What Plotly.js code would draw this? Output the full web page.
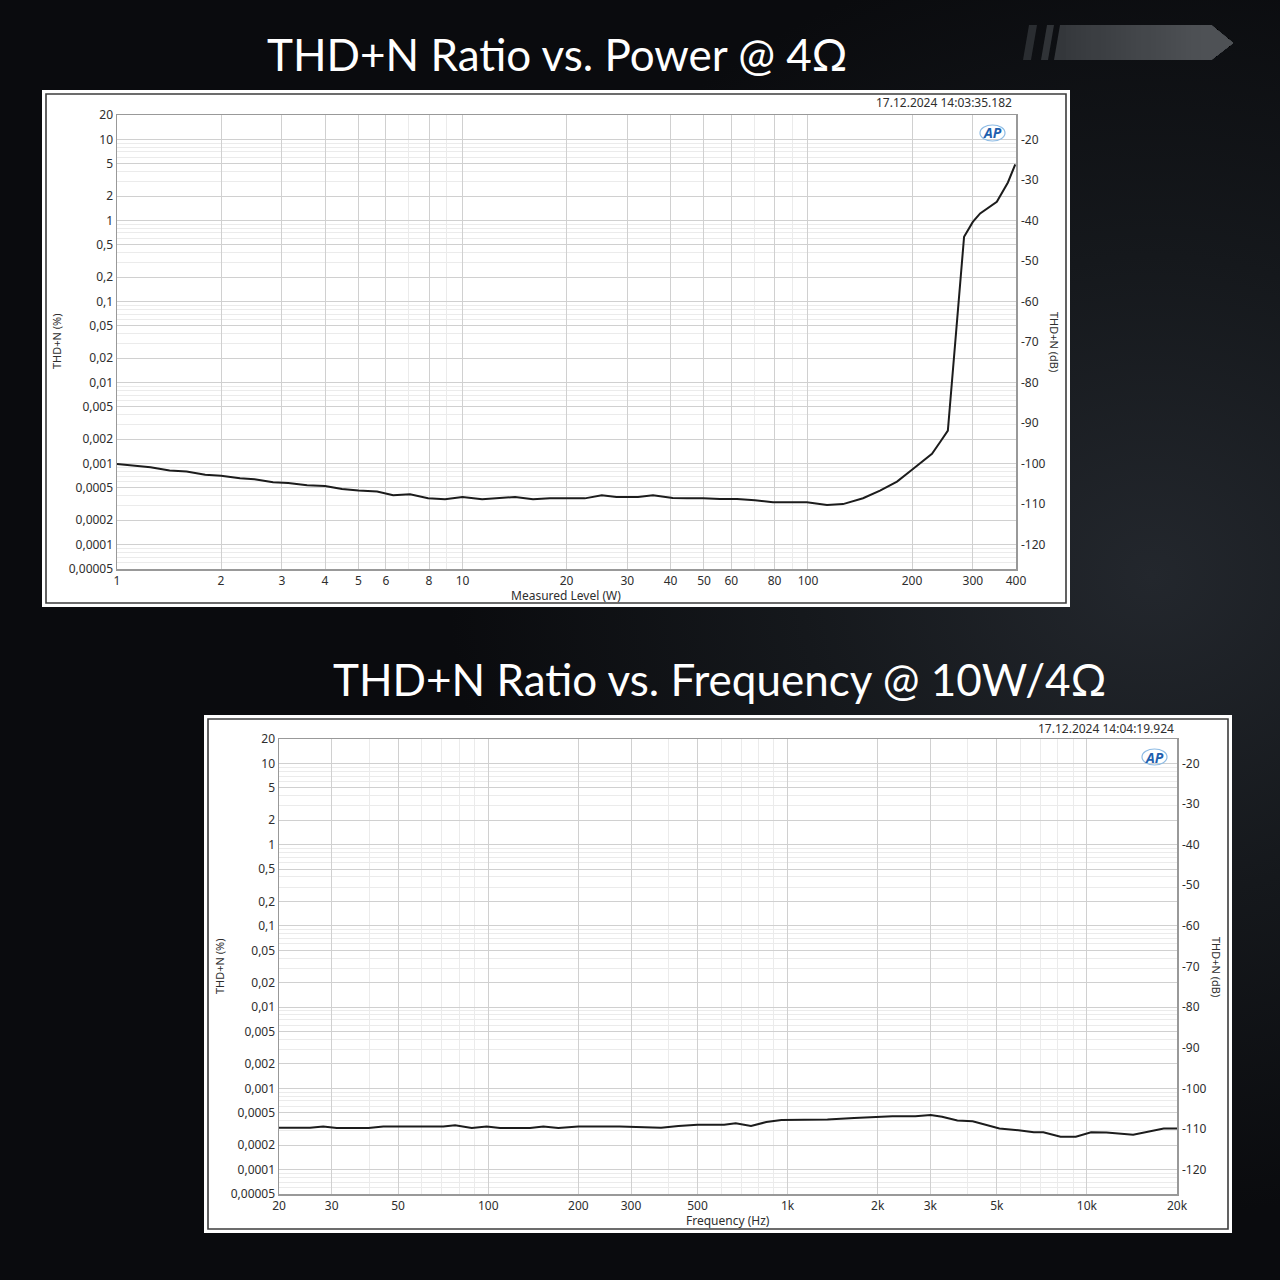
<!DOCTYPE html>
<html><head><meta charset="utf-8">
<script src="https://cdn.plot.ly/plotly-3.0.1.min.js"></script>
<style>
html,body{margin:0;padding:0;width:1280px;height:1280px;overflow:hidden;
background: radial-gradient(ellipse 55% 50% at 90% 45%, #23272d 0%, #15181c 50%, #0a0b0e 100%);}
#chart{width:1280px;height:1280px;}
</style></head><body><div id="chart"></div>
<script>
// ---- Data: THD+N vs Power @ 4 Ohm ----
const powerW = [1, 1.25, 1.42, 1.59, 1.8, 2.0, 2.27, 2.5, 2.83, 3.13, 3.55, 4.0, 4.48, 5.0, 5.66, 6.3, 7.05, 7.95, 8.9, 10, 11.4, 12.8, 14.2, 16, 17.9, 22.6, 25.3, 27.9, 32.2, 35.6, 40.6, 44.7, 49.7, 55.6, 62.3, 70.2, 79.2, 99.3, 113.5, 126.3, 144.3, 161.6, 181, 200, 213.8, 228.5, 241, 254, 283, 300, 315, 352, 379, 398];
const powerThdPct = [0.00099, 0.0009, 0.00082, 0.0008, 0.00073, 0.000705, 0.00066, 0.00064, 0.00059, 0.000576, 0.00054, 0.00053, 0.000486, 0.000464, 0.000452, 0.000406, 0.000417, 0.000373, 0.000362, 0.000387, 0.000362, 0.000372, 0.000387, 0.000362, 0.000372, 0.000372, 0.000406, 0.000387, 0.000387, 0.000406, 0.000377, 0.000373, 0.000373, 0.000365, 0.000365, 0.000352, 0.000333, 0.000333, 0.000309, 0.000316, 0.000373, 0.000464, 0.0006, 0.00084, 0.00104, 0.00132, 0.00183, 0.00255, 0.63, 0.96, 1.22, 1.70, 2.94, 4.91];

// ---- Data: THD+N vs Frequency @ 10W / 4 Ohm ----
const freqHz = [20, 25.4, 28.1, 31.2, 39.8, 44.6, 50.7, 70.8, 77.5, 88.1, 98.8, 109.5, 138, 152.8, 171.5, 200, 275, 322, 378, 432, 500, 614, 671, 755, 849, 954, 1106, 1244, 1359, 1669, 1991, 2240, 2672, 3006, 3283, 3692, 4153, 5102, 5908, 6647, 7152, 8166, 9183, 10330, 11620, 14275, 18060, 20000];
const freqThdPct = [0.000327, 0.000327, 0.000339, 0.000324, 0.000324, 0.000339, 0.000339, 0.000339, 0.000351, 0.000324, 0.000339, 0.000324, 0.000324, 0.000339, 0.000324, 0.000339, 0.000339, 0.000335, 0.000327, 0.000343, 0.000355, 0.000355, 0.000372, 0.000343, 0.000385, 0.000407, 0.000407, 0.000412, 0.000412, 0.000432, 0.000447, 0.000452, 0.000452, 0.000468, 0.000447, 0.000403, 0.000394, 0.00032, 0.000305, 0.000288, 0.000288, 0.000254, 0.000254, 0.000288, 0.000285, 0.000269, 0.00032, 0.00032];

// ---- Tick labels ----
const powerTickVals = [1, 2, 3, 4, 5, 6, 8, 10, 20, 30, 40, 50, 60, 80, 100, 200, 300, 400];
const powerTickText = ['1', '2', '3', '4', '5', '6', '8', '10', '20', '30', '40', '50', '60', '80', '100', '200', '300', '400'];
const powerMinorVals = [7, 9, 70, 90];
const freqTickVals = [20, 30, 50, 100, 200, 300, 500, 1000, 2000, 3000, 5000, 10000, 20000];
const freqTickText = ['20', '30', '50', '100', '200', '300', '500', '1k', '2k', '3k', '5k', '10k', '20k'];
const freqMinorVals = [40, 60, 70, 80, 90, 400, 600, 700, 800, 900, 4000, 6000, 7000, 8000, 9000];
const pctTickVals = [20, 10, 5, 2, 1, 0.5, 0.2, 0.1, 0.05, 0.02, 0.01, 0.005, 0.002, 0.001, 0.0005, 0.0002, 0.0001, 0.00005];
const pctTickText = ['20', '10', '5', '2', '1', '0,5', '0,2', '0,1', '0,05', '0,02', '0,01', '0,005', '0,002', '0,001', '0,0005', '0,0002', '0,0001', '0,00005'];
const dbTickVals = [-20, -30, -40, -50, -60, -70, -80, -90, -100, -110, -120];
const dbTickText = ['-20', '-30', '-40', '-50', '-60', '-70', '-80', '-90', '-100', '-110', '-120'];

const pctMinorVals = [];
for (let e = -5; e <= 0; e++) {
  [3, 4, 6, 7, 8, 9].forEach(m => {
    const v = Number((m * Math.pow(10, e)).toPrecision(3));
    if (v > 0.00005 && v < 20) pctMinorVals.push(v);
  });
}

const W = 1280, H = 1280;
const px = v => v / W;
const py = v => 1 - v / H;

const tickFont = {family: 'Noto Sans, Open Sans, sans-serif', size: 12, color: '#2e2e2e'};
const gridMajor = '#d0d0d0';
const gridMinor = '#ebebeb';
const frameColor = '#999999';

function xAxisCfg(domain, range, vals, text, minor, anchor) {
  return {domain, type: 'log', range, anchor, tickvals: vals, ticktext: text,
    showgrid: true, gridcolor: gridMajor, gridwidth: 1,
    minor: {tickvals: minor, showgrid: true, gridcolor: gridMinor, gridwidth: 1, ticks: ''},
    ticks: '', showline: true, linecolor: frameColor, linewidth: 1.5, mirror: true,
    zeroline: false, tickfont: tickFont, tickangle: 0, fixedrange: true};
}
function yAxisCfg(domain, anchor) {
  return {domain, type: 'log', range: [Math.log10(0.00005), Math.log10(20)], anchor,
    tickvals: pctTickVals, ticktext: pctTickText,
    showgrid: true, gridcolor: gridMajor, gridwidth: 1,
    minor: {tickvals: pctMinorVals, showgrid: true, gridcolor: gridMinor, gridwidth: 1, ticks: ''},
    ticks: '', showline: true, linecolor: frameColor, linewidth: 1.5, mirror: true,
    zeroline: false, tickfont: tickFont, fixedrange: true};
}
function dbAxisCfg(overlay, anchor) {
  return {overlaying: overlay, side: 'right', anchor, type: 'linear',
    range: [20 * Math.log10(0.00005 / 100), 20 * Math.log10(20 / 100)],
    tickvals: dbTickVals, ticktext: dbTickText, showgrid: false, zeroline: false,
    showline: false, ticks: '', tickfont: tickFont, fixedrange: true, showticklabels: true,
    ticklabelstandoff: 4};
}

const traces = [
  {x: powerW, y: powerThdPct, xaxis: 'x', yaxis: 'y', type: 'scatter', mode: 'lines',
   line: {color: '#1c1c1c', width: 2}, hoverinfo: 'skip', showlegend: false},
  {x: freqHz, y: freqThdPct, xaxis: 'x2', yaxis: 'y3', type: 'scatter', mode: 'lines',
   line: {color: '#1c1c1c', width: 2}, hoverinfo: 'skip', showlegend: false},
  // empty traces so that the right-hand dB axes are drawn
  {x: [], y: [], xaxis: 'x', yaxis: 'y2', type: 'scatter', mode: 'lines', hoverinfo: 'skip', showlegend: false},
  {x: [], y: [], xaxis: 'x2', yaxis: 'y4', type: 'scatter', mode: 'lines', hoverinfo: 'skip', showlegend: false}
];

function panel(x0, y0, x1, y1) {
  return [
    {type: 'rect', xref: 'paper', yref: 'paper', x0: px(x0), x1: px(x1), y0: py(y1), y1: py(y0),
     fillcolor: '#ffffff', line: {width: 0}, layer: 'below'},
    {type: 'rect', xref: 'paper', yref: 'paper', x0: px(x0 + 4), x1: px(x1 - 4), y0: py(y1 - 4), y1: py(y0 + 4),
     fillcolor: 'rgba(0,0,0,0)', line: {width: 1.6, color: '#3c3c3c'}, layer: 'below'}
  ];
}
function poly(points, fill) {
  const d = points.map((p, i) => (i ? 'L' : 'M') + px(p[0]) + ',' + py(p[1])).join(' ') + ' Z';
  return {type: 'path', xref: 'paper', yref: 'paper', path: d, fillcolor: fill, line: {width: 0}, layer: 'above'};
}

// decorative arrow badge (gradient simulated by thin strips)
const badge = [
  poly([[1029, 25], [1037, 25], [1031, 60], [1023, 60]], '#2a2d31'),
  poly([[1047, 25], [1054, 25], [1048, 60], [1041, 60]], '#303337'),
  poly([[1060, 25], [1211, 25], [1233, 43], [1211, 60], [1054, 60]], '#34373b')
];
for (let i = 0; i < 28; i++) {
  const x0 = 1066 + i * 5;
  const g = 0x36 + Math.round(i * 0.9);
  const hex = '#' + [g, g + 3, g + 7].map(v => v.toString(16).padStart(2, '0')).join('');
  badge.push(poly([[x0, 25], [1211, 25], [1233, 43], [1211, 60], [x0, 60]], hex));
}

const shapes = [
  ...panel(42, 90, 1070, 607),
  ...panel(204, 715, 1232, 1233),
  ...badge,
  {type: 'circle', xref: 'paper', yref: 'paper', x0: px(980), x1: px(1005), y0: py(141), y1: py(125),
   line: {color: '#8dbbe4', width: 1.2}, fillcolor: 'rgba(0,0,0,0)', layer: 'above'},
  {type: 'circle', xref: 'paper', yref: 'paper', x0: px(1142), x1: px(1167), y0: py(765), y1: py(749),
   line: {color: '#8dbbe4', width: 1.2}, fillcolor: 'rgba(0,0,0,0)', layer: 'above'}
];

const titleFont = {family: 'Lato, Noto Sans, sans-serif', size: 44, color: '#ffffff'};
const smallFont = {family: 'Noto Sans, Open Sans, sans-serif', size: 12, color: '#2e2e2e'};
const axTitleFont = {family: 'Noto Sans, Open Sans, sans-serif', size: 11, color: '#2e2e2e'};
const apFont = {family: 'Noto Sans, sans-serif', size: 14, color: '#1f5fae'};

function ann(text, x, y, opts) {
  return Object.assign({text, x: px(x), y: py(y), xref: 'paper', yref: 'paper', showarrow: false,
    xanchor: 'center', yanchor: 'middle'}, opts || {});
}

const annotations = [
  ann('THD+N Ratio vs. Power @ 4Ω', 557, 54, {font: titleFont}),
  ann('THD+N Ratio vs. Frequency @ 10W/4Ω', 719, 679, {font: titleFont}),
  ann('17.12.2024 14:03:35.182', 1014, 103, {xanchor: 'right', font: smallFont}),
  ann('17.12.2024 14:04:19.924', 1176, 728, {xanchor: 'right', font: smallFont}),
  ann('Measured Level (W)', 566, 595, {font: smallFont}),
  ann('Frequency (Hz)', 728, 1220, {font: smallFont}),
  ann('THD+N (%)', 57, 341, {textangle: -90, font: axTitleFont}),
  ann('THD+N (%)', 219, 966, {textangle: -90, font: axTitleFont}),
  ann('THD+N (dB)', 1055, 342, {textangle: 90, font: axTitleFont}),
  ann('THD+N (dB)', 1217, 967, {textangle: 90, font: axTitleFont}),
  ann('<b><i>AP</i></b>', 992, 133, {font: apFont}),
  ann('<b><i>AP</i></b>', 1154, 757, {font: apFont})
];

const layout = {
  width: W, height: H,
  margin: {l: 0, r: 0, t: 0, b: 0, pad: 0},
  paper_bgcolor: 'rgba(0,0,0,0)',
  plot_bgcolor: '#ffffff',
  showlegend: false,
  xaxis: xAxisCfg([px(117), px(1016)], [0, Math.log10(400)], powerTickVals, powerTickText, powerMinorVals, 'y'),
  yaxis: yAxisCfg([py(569), py(115)], 'x'),
  yaxis2: dbAxisCfg('y', 'x'),
  xaxis2: xAxisCfg([px(279), px(1177)], [Math.log10(20), Math.log10(20000)], freqTickVals, freqTickText, freqMinorVals, 'y3'),
  yaxis3: yAxisCfg([py(1194), py(739)], 'x2'),
  yaxis4: dbAxisCfg('y3', 'x2'),
  shapes, annotations
};

Plotly.newPlot('chart', traces, layout, {displayModeBar: false, staticPlot: true});
</script></body></html>
